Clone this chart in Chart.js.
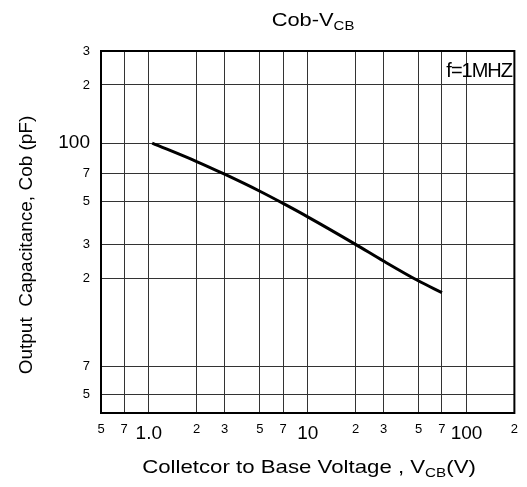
<!DOCTYPE html>
<html>
<head>
<meta charset="utf-8">
<script src="https://cdn.jsdelivr.net/npm/chart.js@4"></script>
<style>
  html, body { margin: 0; padding: 0; background: #fff; }
</style>
</head>
<body>
<canvas id="chart" width="527" height="487"></canvas>
<script>
// Cob vs VCB, f = 1 MHz
const voltage = [1.05, 2, 3, 5, 7, 10, 20, 30, 50, 70];
const capacitance = [100, 80.3, 69, 56.3, 48.7, 41.5, 29.9, 24.5, 19.3, 16.8];

const xTickValues = [0.5, 0.7, 1, 2, 3, 5, 7, 10, 20, 30, 50, 70, 100, 200];
const xTickLabels = ['5', '7', '1.0', '2', '3', '5', '7', '10', '2', '3', '5', '7', '100', '2'];
const yTickValues = [5, 7, 20, 30, 50, 70, 100, 200, 300];
const yTickLabels = ['5', '7', '2', '3', '5', '7', '100', '2', '3'];
const bigLabels = ['1.0', '10', '100'];

const FONT = "'Liberation Sans', Arial, sans-serif";

// draws text pieces in a row (pieces can be subscripts), sx stretches it sideways
function drawRich(ctx, parts, x, y, sx) {
    let total = 0;
    parts.forEach(p => {
        ctx.font = p.size + 'px ' + FONT;
        p.w = ctx.measureText(p.t).width;
        total += p.w;
    });
    ctx.save();
    ctx.translate(x, y);
    ctx.scale(sx || 1, 1);
    ctx.textAlign = 'left';
    let cx = -total / 2;
    parts.forEach(p => {
        ctx.font = p.size + 'px ' + FONT;
        ctx.fillText(p.t, cx, p.dy || 0);
        cx += p.w;
    });
    ctx.restore();
}

const textPlugin = {
    id: 'texts',
    afterDraw(chart) {
        const { ctx, chartArea: a } = chart;
        ctx.save();
        // frame round the plot
        ctx.strokeStyle = '#000';
        ctx.lineWidth = 2;
        ctx.strokeRect(a.left, a.top, a.right - a.left, a.bottom - a.top);

        ctx.fillStyle = '#000';
        ctx.textBaseline = 'alphabetic';
        drawRich(ctx, [
            { t: 'Cob-V', size: 19 },
            { t: 'CB', size: 13, dy: 4 }
        ], 313, 26, 1.15);

        drawRich(ctx, [
            { t: 'Colletcor to Base Voltage , V', size: 19 },
            { t: 'CB', size: 13, dy: 4 },
            { t: '(V)', size: 19 }
        ], 309, 473, 1.17);

        ctx.save();
        ctx.translate(32, 245);
        ctx.rotate(-Math.PI / 2);
        drawRich(ctx, [{ t: 'Output  Capacitance, Cob (pF)', size: 19 }], 0, 0, 1);
        ctx.restore();

        ctx.font = '20px ' + FONT;
        ctx.letterSpacing = '-1px';
        ctx.textAlign = 'right';
        ctx.fillText('f=1MHZ', 512, 77);
        ctx.restore();
    }
};

const ctx = document.getElementById('chart').getContext('2d');
new Chart(ctx, {
    type: 'line',
    data: {
        datasets: [{
            data: voltage.map((v, i) => ({ x: v, y: capacitance[i] })),
            borderColor: '#000',
            borderWidth: 3,
            pointRadius: 0,
            fill: false,
            cubicInterpolationMode: 'monotone'
        }]
    },
    options: {
        responsive: false,
        animation: false,
        layout: { padding: { left: 0, top: 51, right: 12, bottom: 0 } },
        plugins: { legend: { display: false }, tooltip: { enabled: false } },
        scales: {
            x: {
                type: 'logarithmic',
                bounds: 'data',
                min: 0.5,
                max: 200,
                afterBuildTicks: (scale) => { scale.ticks = xTickValues.map(v => ({ value: v })); },
                afterFit: (scale) => { scale.height = 74; },
                grid: { color: '#333', lineWidth: 1, drawTicks: false },
                border: { color: '#000', width: 2 },
                ticks: {
                    color: '#000',
                    padding: 9,
                    maxRotation: 0,
                    autoSkip: false,
                    font: (c) => ({ family: FONT, size: bigLabels.includes(xTickLabels[c.index]) ? 19 : 13 }),
                    callback: (value, index) => xTickLabels[index]
                }
            },
            y: {
                type: 'logarithmic',
                bounds: 'data',
                min: 4,
                max: 300,
                afterBuildTicks: (scale) => { scale.ticks = yTickValues.map(v => ({ value: v })); },
                afterFit: (scale) => { scale.width = 101; },
                grid: { color: '#333', lineWidth: 1, drawTicks: false },
                border: { color: '#000', width: 2 },
                ticks: {
                    color: '#000',
                    padding: 11,
                    autoSkip: false,
                    font: (c) => ({ family: FONT, size: yTickLabels[c.index] === '100' ? 19 : 13 }),
                    callback: (value, index) => yTickLabels[index]
                }
            }
        }
    },
    plugins: [textPlugin]
});
</script>
</body>
</html>
